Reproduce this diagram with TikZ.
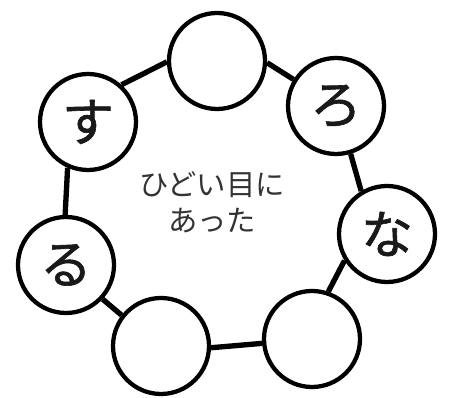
\documentclass[tikz,border=0pt]{standalone}
\usepackage{fontspec}
\newfontfamily\jp{Noto Sans CJK JP}
\newfontfamily\jpbold[FakeBold=1.2]{Noto Sans CJK JP}
\usepackage{tikz}
\usetikzlibrary{positioning}

\begin{document}
\begin{tikzpicture}[
  x=0.75pt, y=-0.75pt,
  ball/.style={draw, circle, line width=3.2pt, minimum size=72pt, inner sep=0pt, fill=white,
    font=\jpbold\fontsize{39}{42}\selectfont, text=black!90},
  link/.style={line width=4pt},
  lab/.style={font=\jp\fontsize{22}{27}\selectfont, align=center, text=black!80}
]
\useasboundingbox (0,0) rectangle (450,398);
% ring of circles
\foreach \n/\x/\y/\t in {c1/217/61/{}, c2/336/106/ろ, c3/387/234/な, c4/312/339/{},
    c5/161/346/{}, c6/66/265/る, c7/88/122/す} {
  \node[ball] (\n) at (\x,\y) {\t};
}
% links between neighbours
\foreach \a/\b/\p/\q in {c7/c1/48/181, c1/c2/-2/148, c2/c3/-73/121, c3/c4/-148/71,
    c4/c5/185/-2, c5/c6/142/-43, c6/c7/91/246} {
  \draw[link] (\a.\p) -- (\b.\q);
}
% centre text
\node[lab] (mid) at (212,202) {ひどい目に\\あった};
\end{tikzpicture}
\end{document}
